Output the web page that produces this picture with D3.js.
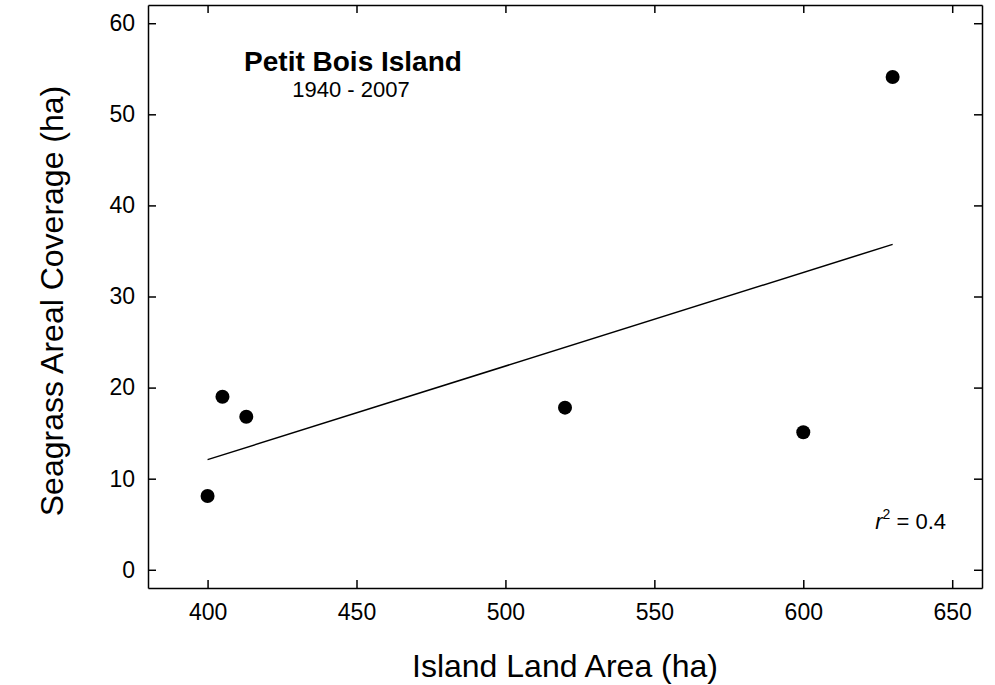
<!DOCTYPE html>
<html lang="en">
<head>
  <meta charset="UTF-8">
  <title>Petit Bois Island</title>
  <style>
    body { margin: 0; background: #fff; }
    svg { display: block; font-family: "Liberation Sans", Arial, sans-serif; }
    .tick text { font-size: 23px; fill: #000; }
    .tick line, .domain { stroke: #000; stroke-width: 1.5px; }
  </style>
</head>
<body>
  <div id="chart"></div>
  <script src="https://d3js.org/d3.v7.min.js"></script>
  <script>
    const width = 995, height = 685;
    const margin = { top: 5, right: 13, bottom: 97, left: 148 };

    // data
    const landArea = [400, 405, 413, 520, 600, 630];
    const seagrass = [8.1, 19.0, 16.8, 17.8, 15.1, 54.1];
    const xTicks = [400, 450, 500, 550, 600, 650];
    const yTicks = [0, 10, 20, 30, 40, 50, 60];
    const rSquared = "0.4";

    const svg = d3.select("#chart").append("svg")
      .attr("width", width).attr("height", height);

    const x = d3.scaleLinear().domain([380, 660]).range([margin.left, width - margin.right]);
    const y = d3.scaleLinear().domain([-2, 62]).range([height - margin.bottom, margin.top]);

    // axes, ticks pointing inward on all four sides
    svg.append("g")
      .attr("transform", `translate(0,${y(-2)})`)
      .call(d3.axisBottom(x).tickValues(xTicks).tickSizeInner(-8).tickSizeOuter(0).tickPadding(16))
      .call(g => g.selectAll("text").attr("dy", "0.71em"));
    svg.append("g")
      .attr("transform", `translate(0,${y(62)})`)
      .call(d3.axisTop(x).tickValues(xTicks).tickSizeInner(-8).tickSizeOuter(0).tickFormat(""));
    svg.append("g")
      .attr("transform", `translate(${x(380)},0)`)
      .call(d3.axisLeft(y).tickValues(yTicks).tickSizeInner(-8).tickSizeOuter(0).tickPadding(13));
    svg.append("g")
      .attr("transform", `translate(${x(660)},0)`)
      .call(d3.axisRight(y).tickValues(yTicks).tickSizeInner(-8).tickSizeOuter(0).tickFormat(""));

    // least-squares fit
    const pts = landArea.map((d, i) => ({ x: d, y: seagrass[i] }));
    const mx = d3.mean(landArea), my = d3.mean(seagrass);
    const slope = d3.sum(pts, p => (p.x - mx) * (p.y - my)) / d3.sum(pts, p => (p.x - mx) ** 2);
    const icpt = my - slope * mx;
    const [x0, x1] = d3.extent(landArea);

    svg.append("line")
      .attr("x1", x(x0)).attr("y1", y(icpt + slope * x0))
      .attr("x2", x(x1)).attr("y2", y(icpt + slope * x1))
      .attr("stroke", "#000").attr("stroke-width", 1.5);

    svg.selectAll("circle")
      .data(pts)
      .enter().append("circle")
      .attr("cx", d => x(d.x))
      .attr("cy", d => y(d.y))
      .attr("r", 7)
      .attr("fill", "#000");

    // titles
    svg.append("text")
      .attr("x", 353).attr("y", 71)
      .attr("text-anchor", "middle")
      .attr("font-size", 28).attr("font-weight", "bold")
      .text("Petit Bois Island");
    svg.append("text")
      .attr("x", 351).attr("y", 97)
      .attr("text-anchor", "middle")
      .attr("font-size", 22)
      .text("1940 - 2007");

    const r2 = svg.append("text")
      .attr("x", 946).attr("y", 529)
      .attr("text-anchor", "end")
      .attr("font-size", 22);
    r2.append("tspan").attr("font-style", "italic").text("r");
    r2.append("tspan").attr("font-size", 14).attr("dy", -10).text("2");
    r2.append("tspan").attr("dy", 10).text(" = " + rSquared);

    svg.append("text")
      .attr("x", 565).attr("y", 677)
      .attr("text-anchor", "middle")
      .attr("font-size", 32)
      .text("Island Land Area (ha)");
    svg.append("text")
      .attr("transform", "translate(63,301) rotate(-90)")
      .attr("text-anchor", "middle")
      .attr("font-size", 32)
      .text("Seagrass Areal Coverage (ha)");
  </script>
</body>
</html>
